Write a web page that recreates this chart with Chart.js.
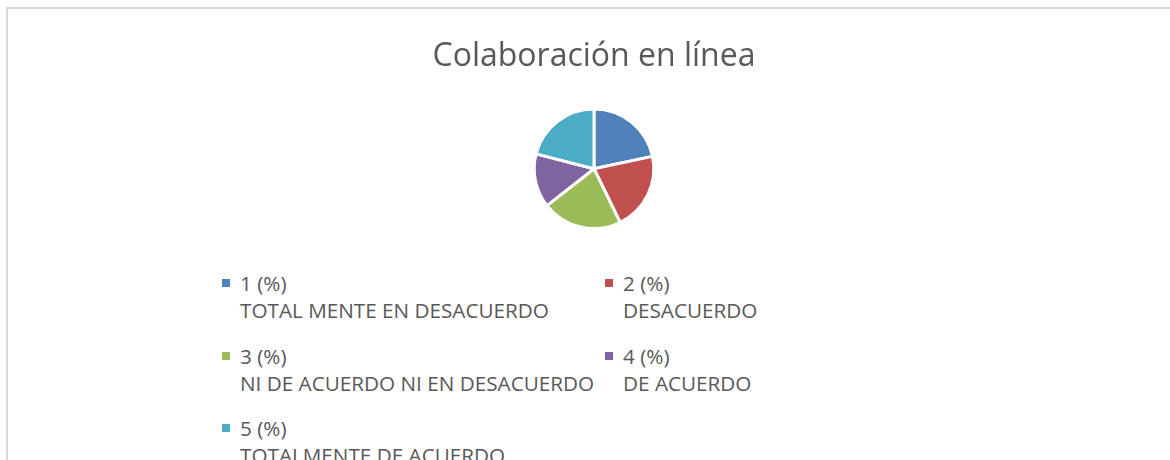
<!DOCTYPE html>
<html lang="es">
<head>
    <meta charset="UTF-8">
    <title>Colaboración en línea</title>
    <script src="https://cdn.jsdelivr.net/npm/chart.js"></script>
    <style>
        body {
            margin: 0;
            width: 1170px;
            height: 460px;
            overflow: hidden;
            background: white;
            font-family: "Open Sans", sans-serif;
            color: #595959;
        }
        .frame {
            position: absolute;
            left: 6px;
            top: 7px;
            width: 1300px;
            height: 600px;
            border: 2px solid #d9d9d9;
        }
        .chart-box {
            position: absolute;
            left: 0;
            top: 0;
            width: 1170px;
            height: 240px;
        }
        .legend-item {
            position: absolute;
            font-size: 20.7px;
            line-height: 27px;
            white-space: nowrap;
        }
        .legend-item .box {
            position: absolute;
            left: -18px;
            top: 9px;
            width: 8px;
            height: 8px;
        }
    </style>
</head>
<body>
    <div class="frame"></div>
    <div class="chart-box"><canvas id="pieChart"></canvas></div>
    <div id="legend"></div>
    <script>
        const seriesNames = ["1 (%)", "2 (%)", "3 (%)", "4 (%)", "5 (%)"];
        const categories = [
            "TOTAL MENTE EN DESACUERDO",
            "DESACUERDO",
            "NI DE ACUERDO NI EN DESACUERDO",
            "DE ACUERDO",
            "TOTALMENTE DE ACUERDO"
        ];
        const values = [21.7, 21.1, 21.6, 14.6, 21.0];
        const colors = ["#4f81bd", "#c0504d", "#9bbb59", "#8064a2", "#4bacc6"];

        const ctx = document.getElementById("pieChart").getContext("2d");
        new Chart(ctx, {
            type: "pie",
            data: {
                labels: seriesNames.map((s, i) => [s, categories[i]]),
                datasets: [{
                    data: values,
                    backgroundColor: colors,
                    borderColor: "#ffffff",
                    borderWidth: 3
                }]
            },
            options: {
                responsive: true,
                maintainAspectRatio: false,
                animation: false,
                layout: { padding: { left: 18, right: 0, top: 0, bottom: 10 } },
                plugins: {
                    legend: { display: false },
                    tooltip: { enabled: false },
                    title: {
                        display: true,
                        text: "Colaboración en línea",
                        color: "#595959",
                        font: { family: "Open Sans", size: 32, weight: "normal", lineHeight: 1.2 },
                        padding: { top: 38, bottom: 31 }
                    }
                }
            }
        });

        // legend in two columns, two text lines per entry
        const legend = document.getElementById("legend");
        const colX = [240, 623];
        const rowY = [270, 342.5, 415];
        seriesNames.forEach((name, i) => {
            const item = document.createElement("div");
            item.className = "legend-item";
            item.style.left = colX[i % 2] + "px";
            item.style.top = rowY[Math.floor(i / 2)] + "px";
            item.innerHTML = '<span class="box" style="background:' + colors[i] + '"></span>' +
                '<div>' + name + '</div><div>' + categories[i] + '</div>';
            legend.appendChild(item);
        });
    </script>
</body>
</html>
